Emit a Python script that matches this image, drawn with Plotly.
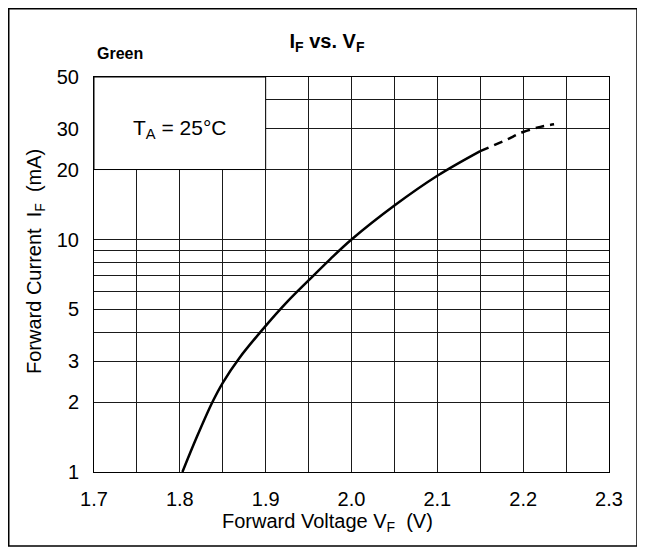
import numpy as np
import plotly.graph_objects as go

# Data
vf_solid = [1.803, 1.820, 1.838, 1.850, 1.869, 1.900, 1.925, 1.950, 1.975, 2.000, 2.050, 2.100, 2.150]
if_solid = [1.0, 1.42, 2.0, 2.42, 3.08, 4.25, 5.39, 6.67, 8.22, 10.0, 14.0, 18.8, 24.0]
vf_dash = [2.150, 2.180, 2.200, 2.220, 2.236]
if_dash = [24.0, 26.8, 29.0, 30.5, 31.3]

x_ticks = [1.7, 1.8, 1.9, 2.0, 2.1, 2.2, 2.3]
x_minor = [1.75, 1.85, 1.95, 2.05, 2.15, 2.25]
y_ticks = [1, 2, 3, 5, 10, 20, 30, 50]
y_minor = [4, 6, 7, 8, 9, 40]

FONT = "Liberation Sans Narrow, Arial Narrow, Liberation Sans, Arial, sans-serif"
GRID = "#1a1a1a"

W, H = 637, 544
L, R, T, B = 86, 36, 69, 80
PW, PH = W - L - R, H - T - B

fig = go.Figure()
fig.add_trace(go.Scatter(x=vf_solid, y=if_solid, mode="lines",
                         line=dict(color="black", width=2.5, shape="spline", smoothing=1.0),
                         showlegend=False, hoverinfo="skip"))
fig.add_trace(go.Scatter(x=vf_dash, y=if_dash, mode="lines",
                         line=dict(color="black", width=2.5, dash="9px,6px", shape="spline", smoothing=1.0),
                         showlegend=False, hoverinfo="skip"))

def px_x(px):
    return (px - L) / PW

def px_y(py):
    return (H - B - py) / PH

fig.update_layout(
    width=W, height=H,
    margin=dict(l=L, r=R, t=T, b=B),
    paper_bgcolor="white", plot_bgcolor="white",
    font=dict(family=FONT, size=20, color="black"),
    title=dict(text="<b>I<sub>F</sub> vs. V<sub>F</sub></b>", x=319 / W, xanchor="center",
               y=1 - 33 / H, yanchor="middle", yref="container",
               font=dict(size=20, family=FONT)),
    xaxis=dict(range=[1.7, 2.3], tickvals=x_ticks, ticktext=[f"{v:.1f}" for v in x_ticks],
               showgrid=True, gridcolor=GRID, gridwidth=1,
               minor=dict(tickvals=x_minor, showgrid=True, gridcolor=GRID, gridwidth=1, ticks=""),
               showline=True, linecolor="black", linewidth=1, mirror=True,
               ticks="outside", ticklen=9, tickcolor="rgba(0,0,0,0)", zeroline=False,
               tickfont=dict(size=20)),
    yaxis=dict(type="log", range=[0, np.log10(50)], tickvals=y_ticks, ticktext=[str(v) for v in y_ticks],
               showgrid=True, gridcolor=GRID, gridwidth=1,
               minor=dict(tickvals=y_minor, showgrid=True, gridcolor=GRID, gridwidth=1, ticks=""),
               showline=True, linecolor="black", linewidth=1, mirror=True,
               ticks="outside", ticklen=10, tickcolor="rgba(0,0,0,0)", zeroline=False,
               tickfont=dict(size=20)),
    shapes=[
        dict(type="rect", xref="x", yref="y", x0=1.7, x1=1.9, y0=20, y1=50,
             fillcolor="white", line=dict(color="black", width=1), layer="above"),
        dict(type="rect", xref="paper", yref="paper",
             x0=px_x(0.75), x1=px_x(629), y0=px_y(538), y1=px_y(0.75),
             line=dict(color="black", width=1.5), fillcolor="rgba(0,0,0,0)", layer="above"),
    ],
    annotations=[
        dict(text="T<sub>A</sub> = 25°C", xref="x", yref="y", x=1.8, y=np.log10(30),
             showarrow=False, xanchor="center", yanchor="middle", font=dict(size=21)),
        dict(text="<b>Green</b>", xref="paper", yref="paper", x=px_x(87), y=px_y(46),
             showarrow=False, xanchor="left", yanchor="middle", font=dict(size=16)),
        dict(text="Forward Current&nbsp;&nbsp;I<sub>F</sub>&nbsp;&nbsp;(mA)", xref="paper", yref="paper",
             x=px_x(27), y=px_y(254), textangle=-90,
             showarrow=False, xanchor="center", yanchor="middle", font=dict(size=20)),
        dict(text="Forward Voltage V<sub>F</sub>&nbsp;&nbsp;(V)", xref="paper", yref="paper",
             x=px_x(319), y=px_y(514),
             showarrow=False, xanchor="center", yanchor="middle", font=dict(size=20)),
    ],
)

fig.write_html("out.html")
